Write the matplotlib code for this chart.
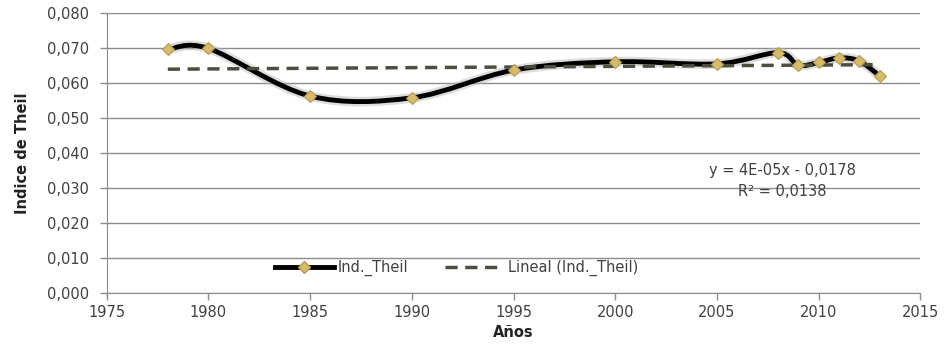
import numpy as np
import matplotlib
matplotlib.use("Agg")
import matplotlib.pyplot as plt
from matplotlib.path import Path
from matplotlib.patches import PathPatch
from matplotlib.lines import Line2D
from matplotlib.ticker import FuncFormatter

# Data
years = [1978, 1980, 1985, 1990, 1995, 2000, 2005, 2008, 2009, 2010, 2011, 2012, 2013]
theil = [0.0696, 0.0699, 0.0563, 0.0558, 0.0637, 0.0661, 0.0655, 0.0687, 0.0651, 0.0659, 0.0672, 0.0663, 0.0620]
series_label = "Ind._Theil"
trend_label = "Lineal (Ind._Theil)"
eq_text = "y = 4E-05x - 0,0178"
r2_text = "R\u00b2 = 0,0138"

plt.rcParams['font.family'] = ['DejaVu Sans']

fig = plt.figure(figsize=(9.45, 3.54), dpi=100)
ax = fig.add_axes([0.113, 0.172, 0.861, 0.791])

grid_col = "#8c8c8c"
text_col = "#404040"

# smoothed line (Excel style: Catmull-Rom as cubic Bezier)
pts = np.column_stack([years, theil]).astype(float)
n = len(pts)
verts = [pts[0]]
codes = [Path.MOVETO]
for i in range(n - 1):
    p0 = pts[i - 1] if i > 0 else pts[i]
    p1 = pts[i]
    p2 = pts[i + 1]
    p3 = pts[i + 2] if i + 2 < n else pts[i + 1]
    c1 = p1 + (p2 - p0) / 6.0
    c2 = p2 - (p3 - p1) / 6.0
    verts += [c1, c2, p2]
    codes += [Path.CURVE4] * 3
smooth = Path(verts, codes)
# soft shadow under the line
ax.add_patch(PathPatch(smooth, facecolor="none", edgecolor="#bdbdbd", lw=7, alpha=0.5, zorder=2))
ax.add_patch(PathPatch(smooth, facecolor="none", edgecolor="black", lw=3.5, zorder=3))

# trend line from a linear fit of the data
coef = np.polyfit(years, theil, 1)
trend = np.polyval(coef, years)
ax.plot(years, trend, color="#4d4d40", lw=2.5, ls=(0, (3.5, 2.2)), zorder=4)

ax.plot(years, theil, ls="none", marker="D", ms=6, mfc="#d6bb6a", mec="#b89a4a", mew=0.8, zorder=5)

ax.set_xlim(1975, 2015)
ax.set_ylim(0, 0.08)
ax.set_xticks(np.arange(1975, 2016, 5))
ax.set_yticks(np.arange(0, 0.0801, 0.01))
ax.yaxis.set_major_formatter(FuncFormatter(lambda v, p: f"{v:.3f}".replace(".", ",")))

ax.grid(axis="y", color=grid_col, lw=1)
ax.set_axisbelow(True)
for s in ["top", "right"]:
    ax.spines[s].set_visible(False)
for s in ["left", "bottom"]:
    ax.spines[s].set_color(grid_col)
ax.tick_params(colors=grid_col, labelcolor=text_col, labelsize=10.5, length=5, width=1)
ax.tick_params(axis="y", pad=8)

ax.set_ylabel("Indice de Theil", fontsize=10.5, fontweight="bold", color="#222222", labelpad=12)
ax.set_xlabel("Años", fontsize=10.5, fontweight="bold", color="#222222", labelpad=4)

ax.text(0.830, 0.437, eq_text, transform=ax.transAxes, ha="center", va="center", fontsize=10.5, color=text_col)
ax.text(0.830, 0.362, r2_text, transform=ax.transAxes, ha="center", va="center", fontsize=10.5, color=text_col)

handles = [
    Line2D([], [], color="black", lw=3.5, marker="D", ms=6, mfc="#d6bb6a", mec="#b89a4a"),
    Line2D([], [], color="#4d4d40", lw=2.5, ls=(0, (3.5, 2.2))),
]
ax.legend(handles, [series_label, trend_label], loc="center", bbox_to_anchor=(0.43, 0.09),
          ncol=2, frameon=False, fontsize=10.5, handlelength=4, columnspacing=2.5,
          handletextpad=0.3, labelcolor=text_col)

fig.savefig("out.png", dpi=100)
